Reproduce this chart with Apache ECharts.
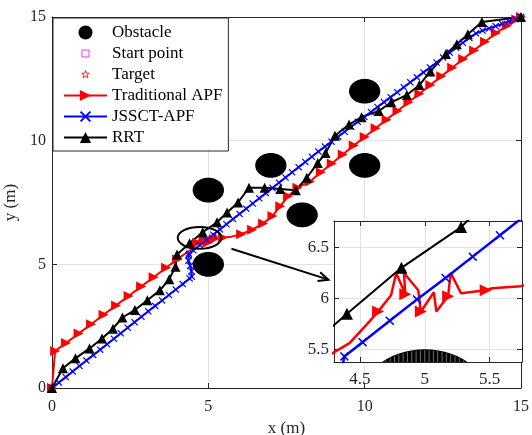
<!DOCTYPE html>
<html>
<head>
<meta charset="utf-8">
<script src="https://cdn.jsdelivr.net/npm/echarts@6/dist/echarts.min.js"></script>
<style>
html,body{margin:0;padding:0;background:#fff}
#main{width:532px;height:435px}
</style>
</head>
<body>
<div id="main"></div>
<script>
// obstacles (centre x, centre y, radius)
var obsX = [5, 5, 7, 8, 10, 10];
var obsY = [8, 5, 9, 7, 9, 12];
var obsR = [0.5, 0.5, 0.5, 0.5, 0.5, 0.5];

var startPt = [0, 0];
var targetPt = [15, 15];

// Traditional APF path, mark = 1 where a marker is drawn
var apfX = [0, 0.1, 0.45, 0.85, 1.25, 1.65, 2.05, 2.45, 2.85, 3.25, 3.65, 4.0, 4.3, 4.42, 4.55, 4.64, 4.74, 4.78, 4.85, 4.84, 4.95, 4.97, 5.07, 5.09, 5.18, 5.2, 5.28, 5.47, 5.52, 5.74, 6.05, 6.4, 6.75, 7.05, 7.3, 7.55, 7.85, 8.25, 8.6, 8.95, 9.3, 9.65, 10.0, 10.35, 10.7, 11.05, 11.4, 11.75, 12.1, 12.45, 12.8, 13.15, 13.5, 13.85, 14.2, 14.55, 14.85, 15];
var apfY = [0, 1.5, 1.82, 2.2, 2.58, 2.96, 3.34, 3.72, 4.1, 4.48, 4.86, 5.2, 5.47, 5.56, 5.74, 5.87, 6.03, 6.25, 6.04, 6.25, 6.08, 5.87, 6.06, 5.87, 6.02, 6.25, 6.05, 6.08, 6.1, 6.12, 6.22, 6.4, 6.65, 6.95, 7.35, 7.75, 8.1, 8.35, 8.72, 9.08, 9.44, 9.8, 10.15, 10.5, 10.85, 11.2, 11.55, 11.9, 12.25, 12.6, 12.95, 13.3, 13.65, 14.0, 14.35, 14.65, 14.9, 15];
var apfMark = [1, 1, 1, 1, 1, 1, 1, 1, 1, 1, 1, 1, 0, 0, 0, 1, 0, 0, 1, 0, 0, 1, 0, 0, 1, 0, 0, 1, 0, 0, 1, 1, 1, 1, 1, 1, 1, 1, 1, 1, 1, 1, 1, 1, 1, 1, 1, 1, 1, 1, 1, 1, 1, 1, 1, 1, 1, 1];

// JSSCT-APF path
var jssX = [0, 0.22, 0.44, 0.66, 0.88, 1.1, 1.32, 1.54, 1.76, 1.98, 2.2, 2.42, 2.64, 2.86, 3.08, 3.3, 3.52, 3.74, 3.96, 4.18, 4.4, 4.47, 4.46, 4.42, 4.36, 4.37, 4.38, 4.52, 4.73, 4.94, 5.16, 5.37, 5.58, 5.79, 6.0, 6.21, 6.42, 6.63, 6.84, 7.05, 7.26, 7.47, 7.68, 7.89, 8.1, 8.31, 8.52, 8.73, 8.94, 9.15, 9.36, 9.57, 9.78, 9.99, 10.2, 10.41, 10.62, 10.83, 11.04, 11.25, 11.46, 11.67, 11.88, 12.09, 12.3, 12.51, 12.72, 12.93, 13.14, 13.35, 13.56, 13.77, 13.98, 14.19, 14.4, 14.61, 14.82, 15];
var jssY = [0, 0.22, 0.44, 0.67, 0.89, 1.11, 1.33, 1.55, 1.77, 1.99, 2.21, 2.44, 2.66, 2.88, 3.1, 3.32, 3.54, 3.76, 3.98, 4.2, 4.43, 4.5, 4.72, 4.94, 5.14, 5.36, 5.43, 5.57, 5.78, 5.99, 6.2, 6.41, 6.62, 6.83, 7.04, 7.25, 7.46, 7.67, 7.88, 8.09, 8.3, 8.51, 8.72, 8.93, 9.14, 9.35, 9.56, 9.76, 9.96, 10.16, 10.36, 10.56, 10.76, 10.96, 11.16, 11.36, 11.56, 11.76, 11.96, 12.16, 12.36, 12.56, 12.76, 12.96, 13.16, 13.36, 13.56, 13.76, 13.96, 14.15, 14.34, 14.45, 14.54, 14.63, 14.72, 14.82, 14.91, 15];

// RRT path
var rrtX = [0, 0.35, 0.75, 1.2, 1.6, 1.95, 2.25, 2.65, 3.05, 3.45, 3.75, 3.95, 4.0, 4.4, 4.82, 5.28, 5.6, 5.95, 6.3, 6.8, 7.3, 7.8, 8.15, 8.5, 8.75, 9.05, 9.5, 9.9, 10.45, 10.85, 11.35, 11.75, 12.1, 12.6, 12.95, 13.3, 13.75, 15];
var rrtY = [0, 0.8, 1.2, 1.6, 2.0, 2.4, 2.85, 3.15, 3.55, 3.95, 4.4, 4.9, 5.4, 5.85, 6.3, 6.7, 7.1, 7.5, 8.1, 8.1, 8.05, 8.0, 8.5, 9.1, 9.5, 10.2, 10.65, 10.95, 11.2, 11.55, 11.85, 12.25, 12.8, 13.5, 13.9, 14.3, 14.8, 15];

// ticks
var mainTicks = [0, 5, 10, 15];
var zoomXTicks = [4.5, 5, 5.5];
var zoomYTicks = [5.5, 6, 6.5];
var zoomXRange = [4.3, 5.75];
var zoomYRange = [5.375, 6.76];

// annotation: ellipse (cx, cy, rx, ry) and arrow (from, to)
var ringShape = [4.72, 6.07, 0.7, 0.44];
var arrowFrom = [5.74, 5.63];
var arrowTo = [8.84, 4.38];

var FONT = 'Liberation Serif';
var FS = 17;
var TFS = 16;
var AX = '#262626';
var GRIDC = '#e3e3e3';

var triRight = 'path://M0,0 L10,5 L0,10 Z';
var xMark = 'path://M0,1.2 L1.2,0 L5,3.8 L8.8,0 L10,1.2 L6.2,5 L10,8.8 L8.8,10 L5,6.2 L1.2,10 L0,8.8 L3.8,5 Z';
var squareIcon = 'path://M0,0 M14,14 M3.5,3.5 L10.5,3.5 L10.5,10.5 L3.5,10.5 Z';
var starIcon = 'path://M0,0 M14,14 M7,3 L7.94,5.71 L10.8,5.76 L8.52,7.49 L9.35,10.24 L7,8.6 L4.65,10.24 L5.48,7.49 L3.2,5.76 L6.06,5.71 Z';

function pathData(xs, ys, marks) {
  return xs.map(function (x, i) {
    if (marks && !marks[i]) return { value: [x, ys[i]], symbol: 'none' };
    return [x, ys[i]];
  });
}

function pathSeries(name, xs, ys, marks, color, symbol, size, ax, z, lw) {
  return {
    type: 'line', name: name, xAxisIndex: ax, yAxisIndex: ax,
    data: pathData(xs, ys, marks),
    symbol: symbol, symbolSize: size, symbolKeepAspect: true,
    showSymbol: true, showAllSymbol: true,
    lineStyle: { color: color, width: lw },
    itemStyle: { color: color },
    emphasis: { disabled: true },
    animation: false, z: z
  };
}

// hatched = MATLAB-like vertical white streaks, seen in the zoomed view
function obstacleSeries(ax, z, hatched) {
  return {
    type: 'custom', name: 'Obstacle', xAxisIndex: ax, yAxisIndex: ax, clip: true, z: z,
    itemStyle: { color: '#000' },
    data: obsX.map(function (x, i) { return [x, obsY[i], obsR[i]]; }),
    encode: { x: 0, y: 1 },
    renderItem: function (params, api) {
      var cx = api.value(0), cy = api.value(1), r = api.value(2);
      var pts = [];
      for (var k = 0; k < 60; k++) {
        var a = k / 60 * Math.PI * 2;
        pts.push(api.coord([cx + r * Math.cos(a), cy + r * Math.sin(a)]));
      }
      var kids = [{ type: 'polygon', shape: { points: pts }, style: { fill: '#000' } }];
      if (hatched) {
        for (var j = -14; j <= 14; j++) {
          var xj = cx + r * j / 15;
          var h = r * Math.sqrt(1 - (j / 15) * (j / 15)) - 0.01;
          var p1 = api.coord([xj, cy - h]), p2 = api.coord([xj, cy + h]);
          kids.push({ type: 'line', shape: { x1: p1[0], y1: p1[1], x2: p2[0], y2: p2[1] }, style: { stroke: 'rgba(255,255,255,0.55)', lineWidth: 0.8 } });
        }
      }
      return { type: 'group', children: kids };
    },
    animation: false
  };
}

function axisCommon(extra) {
  var o = {
    type: 'value',
    axisLine: { show: true, onZero: false, lineStyle: { color: AX, width: 1 } },
    axisTick: { show: true, inside: true, length: 5, lineStyle: { color: AX } },
    axisLabel: { show: false },
    splitLine: { show: false }
  };
  for (var k in extra) o[k] = extra[k];
  return o;
}

function zoomFmt(list) {
  return function (v) {
    var r = Math.round(v * 100) / 100;
    return list.indexOf(r) >= 0 ? String(r) : '';
  };
}

var mainRange = { min: mainTicks[0], max: mainTicks[mainTicks.length - 1], interval: mainTicks[1] - mainTicks[0] };
var split = { show: true, showMinLine: false, showMaxLine: false, lineStyle: { color: GRIDC } };

var chart = echarts.init(document.getElementById('main'));
var option = {
  backgroundColor: '#fff',
  animation: false,
  grid: [
    { left: 52, right: 11, top: 17, bottom: 47, outerBoundsMode: 'none', containLabel: false },
    { left: 334, top: 221, width: 188, height: 141, show: true, backgroundColor: '#fff', borderWidth: 0, z: 1, outerBoundsMode: 'none', containLabel: false }
  ],
  xAxis: [
    axisCommon({ gridIndex: 0, position: 'bottom', min: mainRange.min, max: mainRange.max, interval: mainRange.interval,
      axisLabel: { show: true, fontFamily: FONT, fontSize: TFS, color: AX, margin: 11 },
      splitLine: split,
      name: 'x (m)', nameLocation: 'middle', nameGap: 30, nameTextStyle: { fontFamily: FONT, fontSize: FS, color: AX } }),
    axisCommon({ gridIndex: 0, position: 'top', min: mainRange.min, max: mainRange.max, interval: mainRange.interval }),
    axisCommon({ gridIndex: 1, position: 'bottom', min: zoomXRange[0], max: zoomXRange[1], splitNumber: 3, z: 3,
      axisLabel: { show: true, fontFamily: FONT, fontSize: FS, color: AX, margin: 9, showMinLabel: false, showMaxLabel: false, formatter: zoomFmt(zoomXTicks) },
      splitLine: split }),
    axisCommon({ gridIndex: 1, position: 'top', min: zoomXRange[0], max: zoomXRange[1], splitNumber: 3, z: 3 })
  ],
  yAxis: [
    axisCommon({ gridIndex: 0, position: 'left', min: mainRange.min, max: mainRange.max, interval: mainRange.interval,
      axisLabel: { show: true, fontFamily: FONT, fontSize: TFS, color: AX, margin: 6 },
      splitLine: split,
      name: 'y (m)', nameLocation: 'middle', nameGap: 29, nameTextStyle: { fontFamily: FONT, fontSize: FS, color: AX } }),
    axisCommon({ gridIndex: 0, position: 'right', min: mainRange.min, max: mainRange.max, interval: mainRange.interval }),
    axisCommon({ gridIndex: 1, position: 'left', min: zoomYRange[0], max: zoomYRange[1], splitNumber: 3, z: 3,
      axisLabel: { show: true, fontFamily: FONT, fontSize: FS, color: AX, margin: 5, showMinLabel: false, showMaxLabel: false, formatter: zoomFmt(zoomYTicks) },
      splitLine: split }),
    axisCommon({ gridIndex: 1, position: 'right', min: zoomYRange[0], max: zoomYRange[1], splitNumber: 3, z: 3 })
  ],
  legend: {
    orient: 'vertical', left: 53, top: 18,
    padding: [6, 6, 5, 10], itemGap: 4, itemWidth: 43, itemHeight: 14,
    backgroundColor: '#fff', borderColor: AX, borderWidth: 1, borderRadius: 0,
    textStyle: { fontFamily: FONT, fontSize: FS, color: '#000' },
    selectedMode: false,
    data: [
      { name: 'Obstacle', icon: 'circle', itemStyle: { color: '#000' } },
      { name: 'Start point', icon: squareIcon, itemStyle: { color: 'rgba(0,0,0,0)', borderColor: '#ff00ff', borderWidth: 1 } },
      { name: 'Target', icon: starIcon, itemStyle: { color: 'rgba(0,0,0,0)', borderColor: '#ff0000', borderWidth: 1 } },
      'Traditional APF', 'JSSCT-APF', 'RRT'
    ]
  },
  series: [
    obstacleSeries(0, 1, false),
    { type: 'scatter', name: 'Start point', xAxisIndex: 0, yAxisIndex: 0, data: [startPt], symbol: squareIcon, symbolSize: 12, symbolKeepAspect: true,
      itemStyle: { color: 'rgba(0,0,0,0)', borderColor: '#ff00ff', borderWidth: 1 }, z: 1 },
    { type: 'scatter', name: 'Target', xAxisIndex: 0, yAxisIndex: 0, data: [targetPt], symbol: starIcon, symbolSize: 14, symbolKeepAspect: true,
      itemStyle: { color: 'rgba(0,0,0,0)', borderColor: '#ff0000', borderWidth: 1 }, z: 1 },
    pathSeries('Traditional APF', apfX, apfY, apfMark, '#ff0000', triRight, 10, 0, 2, 2),
    pathSeries('JSSCT-APF', jssX, jssY, null, '#0000ff', xMark, 7, 0, 2, 2),
    pathSeries('RRT', rrtX, rrtY, null, '#000000', 'triangle', 10, 0, 2, 2),
    {
      type: 'custom', xAxisIndex: 0, yAxisIndex: 0, z: 3, animation: false,
      data: [ringShape], encode: { x: 0, y: 1 },
      renderItem: function (params, api) {
        var c = api.coord([api.value(0), api.value(1)]);
        var s = api.size([api.value(2), api.value(3)]);
        return { type: 'ellipse', shape: { cx: c[0], cy: c[1], rx: s[0], ry: s[1] }, style: { fill: null, stroke: '#000', lineWidth: 2 } };
      }
    },
    {
      type: 'custom', xAxisIndex: 0, yAxisIndex: 0, z: 3, animation: false,
      data: [[arrowFrom[0], arrowFrom[1], arrowTo[0], arrowTo[1]]], encode: { x: [0, 2], y: [1, 3] },
      renderItem: function (params, api) {
        var a = api.coord([api.value(0), api.value(1)]);
        var b = api.coord([api.value(2), api.value(3)]);
        var ang = Math.atan2(b[1] - a[1], b[0] - a[0]);
        var L = 11, w = 0.42;
        var p1 = [b[0] - L * Math.cos(ang - w), b[1] - L * Math.sin(ang - w)];
        var p2 = [b[0] - L * Math.cos(ang + w), b[1] - L * Math.sin(ang + w)];
        return { type: 'group', children: [
          { type: 'line', shape: { x1: a[0], y1: a[1], x2: b[0], y2: b[1] }, style: { stroke: '#000', lineWidth: 2 } },
          { type: 'polyline', shape: { points: [p1, b, p2] }, style: { stroke: '#000', lineWidth: 2, fill: null } }
        ] };
      }
    },
    obstacleSeries(2, 4, true),
    pathSeries('Traditional APF', apfX, apfY, apfMark, '#ff0000', triRight, 12, 2, 5, 2.5),
    pathSeries('JSSCT-APF', jssX, jssY, null, '#0000ff', xMark, 9, 2, 5, 2.5),
    pathSeries('RRT', rrtX, rrtY, null, '#000000', 'triangle', 12, 2, 5, 2)
  ]
};
chart.setOption(option);
</script>
</body>
</html>
